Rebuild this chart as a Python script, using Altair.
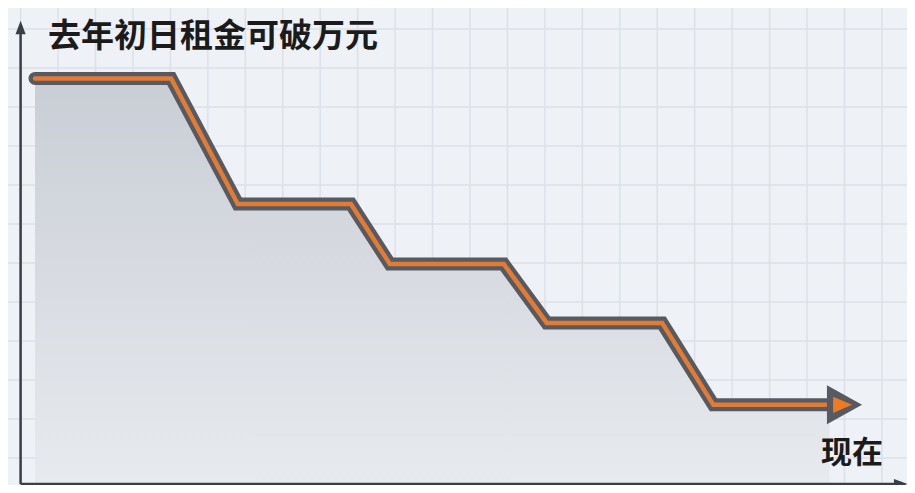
import altair as alt
import pandas as pd

# ---- data (time in grid-cell units from the y axis, rent in yuan) ----
step_time = [0.385, 4.02, 5.8, 8.82, 9.86, 12.9, 14.05, 17.13, 18.5, 21.6]
step_rent = [10400, 10400, 7180, 7180, 5640, 5640, 4130, 4130, 2030, 2030]

title_text = "去年初日租金可破万元"
now_text = "现在"

grid_x = list(range(0, 25))
grid_y = [11667 - 1000 * k for k in range(0, 13)]

line_df = pd.DataFrame({"t": step_time, "rent": step_rent})
gx_df = pd.DataFrame({"t": grid_x})
gy_df = pd.DataFrame({"rent": grid_y})

xs = alt.Scale(domain=[-0.3364, 23.669], nice=False, zero=False)
ys = alt.Scale(domain=[-25.6, 12205], nice=False, zero=False)

def X(f="t"):
    return alt.X(f"{f}:Q", scale=xs, axis=None)

def Y(f="rent"):
    return alt.Y(f"{f}:Q", scale=ys, axis=None)

grid_v = alt.Chart(gx_df).mark_rule(color="#dde1e7", strokeWidth=1.5).encode(x=X())
grid_h = alt.Chart(gy_df).mark_rule(color="#dde1e7", strokeWidth=1.5).encode(y=Y())

area = alt.Chart(line_df).mark_area(
    color=alt.Gradient(
        gradient="linear",
        stops=[alt.GradientStop(color="#c9cdd5", offset=0),
               alt.GradientStop(color="#e7eaee", offset=1)],
        x1=1, x2=1, y1=0, y2=1,
    )
).encode(x=X(), y=Y(), y2=alt.datum(0))

# axes with arrowheads
yaxis_df = pd.DataFrame({"t": [0, 0], "rent": [0, 11650]})
xaxis_df = pd.DataFrame({"t": [0, 23.5], "rent": [0, 0]})
axis_y = alt.Chart(yaxis_df).mark_line(color="#3a3f47", strokeWidth=2.5).encode(x=X(), y=Y())
axis_x = alt.Chart(xaxis_df).mark_line(color="#3a3f47", strokeWidth=2.5).encode(x=X(), y=Y())
arrow_y = alt.Chart(pd.DataFrame({"t": [0], "rent": [11705]})).mark_point(
    shape="M-0.75,1L0,-1L0.75,1Z", size=182, filled=True, opacity=1, color="#3a3f47"
).encode(x=X(), y=Y())
arrow_x = alt.Chart(pd.DataFrame({"t": [23.5], "rent": [0]})).mark_point(
    shape="M-1,-0.75L1,0L-1,0.75Z", size=182, filled=True, opacity=1, color="#3a3f47"
).encode(x=X(), y=Y())

line_dark = alt.Chart(line_df).mark_line(
    color="#575a60", strokeWidth=13, strokeCap="round", strokeJoin="miter"
).encode(x=X(), y=Y())
line_orange = alt.Chart(line_df).mark_line(
    color="#e27b34", strokeWidth=4.5, strokeCap="round", strokeJoin="miter"
).encode(x=X(), y=Y())

head_df = pd.DataFrame({"t": [22.0], "rent": [step_rent[-1]]})
head_dark = alt.Chart(head_df).mark_point(
    shape="M-0.9,-1L0.9,0L-0.9,1Z", size=1521, filled=True, opacity=1, color="#575a60"
).encode(x=X(), y=Y())
head_orange = alt.Chart(pd.DataFrame({"t": [21.95], "rent": [step_rent[-1]]})).mark_point(
    shape="M-1,-0.85L1,0L-1,0.85Z", size=361, filled=True, opacity=1, color="#f07a22"
).encode(x=X(), y=Y())

title_df = pd.DataFrame({"t": [0.73], "rent": [11449], "label": [title_text]})
now_df = pd.DataFrame({"t": [22.2], "rent": [769], "label": [now_text]})
title_mark = alt.Chart(title_df).mark_text(
    font="Noto Sans CJK SC", fontSize=33, fontWeight="bold", color="#1b1b1b",
    align="left", baseline="middle"
).encode(x=X(), y=Y(), text="label:N")
now_mark = alt.Chart(now_df).mark_text(
    font="Noto Sans CJK SC", fontSize=31, fontWeight="bold", color="#1b1b1b",
    align="center", baseline="middle"
).encode(x=X(), y=Y(), text="label:N")

chart = alt.layer(
    grid_v, grid_h, area, axis_y, axis_x, arrow_y, arrow_x,
    line_dark, line_orange, head_dark, head_orange, title_mark, now_mark
).properties(
    width=899, height=477,
    autosize=alt.AutoSizeParams(type="none"),
    padding=0,
    background="#eef1f5",
).configure_view(stroke=None)

chart.save("out.html", embed_options={"renderer": "svg", "actions": False})
